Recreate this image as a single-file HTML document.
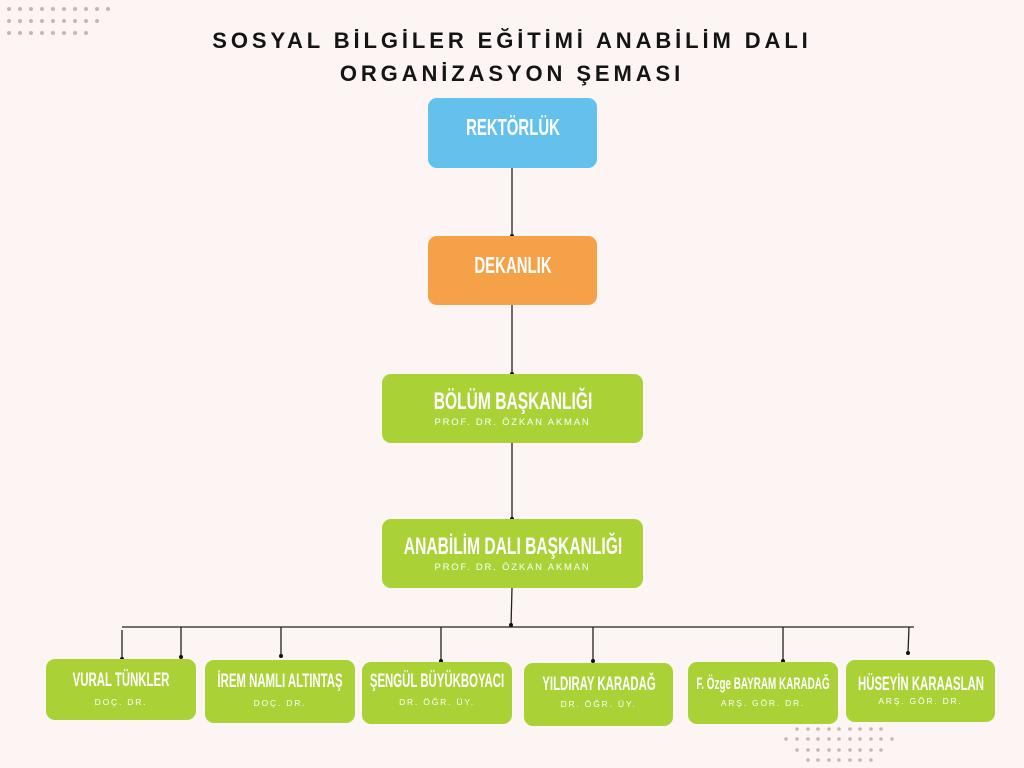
<!DOCTYPE html>
<html><head><meta charset="utf-8"><style>
body{margin:0;width:1024px;height:768px;background:#fdf5f3;position:relative;overflow:hidden;font-family:"Liberation Sans",sans-serif}
.t{position:absolute;left:0;width:1024px;text-align:center;font-weight:bold;font-size:22px;letter-spacing:3.9px;color:#141414}
.b{position:absolute;border-radius:9px;color:#fff;text-align:center}
.n{position:absolute;left:0;right:0;font-weight:bold;white-space:nowrap;height:30px}
.n span{position:absolute;left:50%;top:0;transform:translateX(-50%) scaleX(0.65);white-space:nowrap}
.sm .n span{transform:translateX(-50%) scaleX(0.6)}
.s{position:absolute;left:0;right:0;font-size:9.5px;letter-spacing:1.8px;white-space:nowrap}
.g{background:#aad236}
</style></head><body>
<svg width="1024" height="768" style="position:absolute;left:0;top:0">
<g fill="#c9b5b3">
<circle cx="9" cy="9" r="2"/><circle cx="20" cy="9" r="2"/><circle cx="31" cy="9" r="2"/><circle cx="42" cy="9" r="2"/><circle cx="53" cy="9" r="2"/><circle cx="64" cy="9" r="2"/><circle cx="75" cy="9" r="2"/><circle cx="86" cy="9" r="2"/><circle cx="97" cy="9" r="2"/><circle cx="108" cy="9" r="2"/>
<circle cx="9" cy="21" r="2"/><circle cx="20" cy="21" r="2"/><circle cx="31" cy="21" r="2"/><circle cx="42" cy="21" r="2"/><circle cx="53" cy="21" r="2"/><circle cx="64" cy="21" r="2"/><circle cx="75" cy="21" r="2"/><circle cx="86" cy="21" r="2"/><circle cx="97" cy="21" r="2"/>
<circle cx="9" cy="33" r="2"/><circle cx="20" cy="33" r="2"/><circle cx="31" cy="33" r="2"/><circle cx="42" cy="33" r="2"/><circle cx="53" cy="33" r="2"/><circle cx="64" cy="33" r="2"/><circle cx="75" cy="33" r="2"/><circle cx="86" cy="33" r="2"/>
<circle cx="797" cy="729" r="1.8"/><circle cx="808" cy="729" r="1.8"/><circle cx="818" cy="729" r="1.8"/><circle cx="829" cy="729" r="1.8"/><circle cx="839" cy="729" r="1.8"/><circle cx="850" cy="729" r="1.8"/><circle cx="860" cy="729" r="1.8"/><circle cx="871" cy="729" r="1.8"/><circle cx="881" cy="729" r="1.8"/>
<circle cx="786" cy="739" r="1.8"/><circle cx="797" cy="739" r="1.8"/><circle cx="808" cy="739" r="1.8"/><circle cx="818" cy="739" r="1.8"/><circle cx="829" cy="739" r="1.8"/><circle cx="839" cy="739" r="1.8"/><circle cx="850" cy="739" r="1.8"/><circle cx="860" cy="739" r="1.8"/><circle cx="871" cy="739" r="1.8"/><circle cx="881" cy="739" r="1.8"/><circle cx="892" cy="739" r="1.8"/>
<circle cx="797" cy="750" r="1.8"/><circle cx="808" cy="750" r="1.8"/><circle cx="818" cy="750" r="1.8"/><circle cx="829" cy="750" r="1.8"/><circle cx="839" cy="750" r="1.8"/><circle cx="850" cy="750" r="1.8"/><circle cx="860" cy="750" r="1.8"/><circle cx="871" cy="750" r="1.8"/><circle cx="881" cy="750" r="1.8"/>
<circle cx="808" cy="760" r="1.8"/><circle cx="818" cy="760" r="1.8"/><circle cx="829" cy="760" r="1.8"/><circle cx="839" cy="760" r="1.8"/><circle cx="850" cy="760" r="1.8"/><circle cx="860" cy="760" r="1.8"/><circle cx="871" cy="760" r="1.8"/>
</g>
<g stroke="#222" stroke-width="1.3" fill="none">
<line x1="512" y1="168" x2="512" y2="236"/>
<line x1="512" y1="305" x2="512" y2="374"/>
<line x1="512" y1="443" x2="512" y2="519"/>
<line x1="512" y1="588" x2="511" y2="627"/>
<line x1="122" y1="627" x2="914" y2="627"/>
<line x1="122" y1="630" x2="122" y2="659"/>
<line x1="181" y1="627" x2="181" y2="657"/>
<line x1="281" y1="627" x2="281" y2="656"/>
<line x1="441" y1="627" x2="441" y2="661"/>
<line x1="593" y1="627" x2="593" y2="661"/>
<line x1="783" y1="627" x2="783" y2="661"/>
<line x1="909" y1="627" x2="908" y2="653"/>
</g>
<g fill="#111">
<circle cx="512" cy="236" r="2"/><circle cx="512" cy="374" r="2"/><circle cx="512" cy="519" r="2"/><circle cx="511" cy="625" r="2"/>
<circle cx="122" cy="659" r="2"/><circle cx="181" cy="657" r="2"/><circle cx="281" cy="656" r="2"/><circle cx="441" cy="661" r="2"/><circle cx="593" cy="661" r="2"/><circle cx="783" cy="661" r="2"/><circle cx="908" cy="653" r="2"/>
</g>
</svg>
<div class="t" style="top:28px">SOSYAL BİLGİLER EĞİTİMİ ANABİLİM DALI</div>
<div class="t" style="top:61px">ORGANİZASYON ŞEMASI</div>

<div class="b" style="left:428px;top:98px;width:169px;height:70px;background:#63c1ec"><div class="n" style="top:16px;font-size:23px"><span>REKTÖRLÜK</span></div></div>
<div class="b" style="left:428px;top:236px;width:169px;height:69px;background:#f5a147"><div class="n" style="top:16px;font-size:23px"><span>DEKANLIK</span></div></div>
<div class="b g" style="left:382px;top:374px;width:261px;height:69px"><div class="n" style="top:14px;font-size:24px"><span>BÖLÜM BAŞKANLIĞI</span></div><div class="s" style="top:43px">PROF. DR. ÖZKAN AKMAN</div></div>
<div class="b g" style="left:382px;top:519px;width:261px;height:69px"><div class="n" style="top:14px;font-size:24px"><span>ANABİLİM DALI BAŞKANLIĞI</span></div><div class="s" style="top:43px">PROF. DR. ÖZKAN AKMAN</div></div>

<div class="b g sm" style="left:46px;top:659px;width:150px;height:61px"><div class="n" style="top:11px;font-size:19px"><span>VURAL TÜNKLER</span></div><div class="s" style="top:38px;font-size:8.5px">DOÇ. DR.</div></div>
<div class="b g sm" style="left:205px;top:660px;width:150px;height:63px"><div class="n" style="top:11px;font-size:19px"><span>İREM NAMLI ALTINTAŞ</span></div><div class="s" style="top:38px;font-size:8.5px">DOÇ. DR.</div></div>
<div class="b g sm" style="left:362px;top:662px;width:150px;height:62px"><div class="n" style="top:9px;font-size:19px"><span>ŞENGÜL BÜYÜKBOYACI</span></div><div class="s" style="top:35px;font-size:8.5px">DR. ÖĞR. ÜY.</div></div>
<div class="b g sm" style="left:524px;top:663px;width:149px;height:63px"><div class="n" style="top:11px;font-size:19px"><span>YILDIRAY KARADAĞ</span></div><div class="s" style="top:36px;font-size:8.5px">DR. ÖĞR. ÜY.</div></div>
<div class="b g sm" style="left:688px;top:662px;width:150px;height:62px"><div class="n" style="top:13px;font-size:16.5px"><span>F. Özge BAYRAM KARADAĞ</span></div><div class="s" style="top:36px;font-size:8.5px">ARŞ. GÖR. DR.</div></div>
<div class="b g sm" style="left:846px;top:660px;width:149px;height:62px"><div class="n" style="top:14px;font-size:19px"><span>HÜSEYİN KARAASLAN</span></div><div class="s" style="top:36px;font-size:8.5px">ARŞ. GÖR. DR.</div></div>
</body></html>
